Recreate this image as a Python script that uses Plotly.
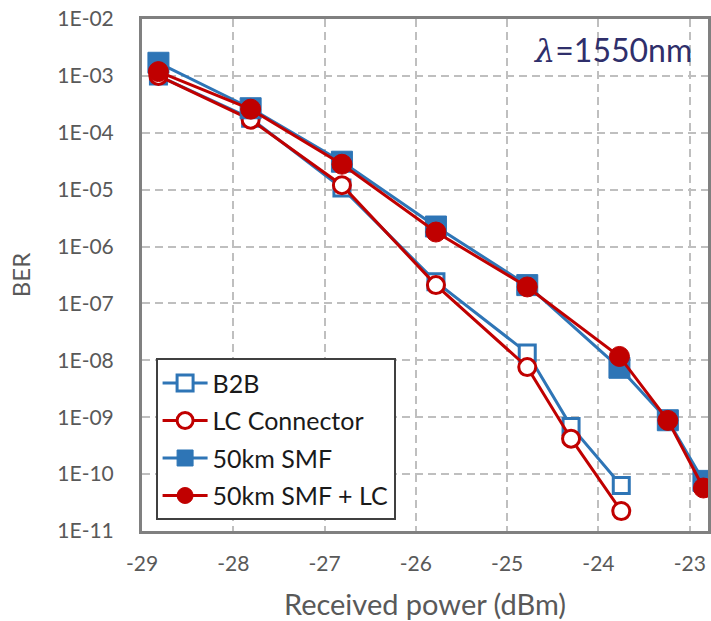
import plotly.graph_objects as go

# Received power (dBm)
b2b_x = [-28.82, -27.81, -26.81, -25.78, -24.78, -24.30, -23.75]
b2b_y = [1.0e-3, 1.8e-4, 1.07e-5, 2.4e-7, 1.35e-8, 6.9e-10, 6.3e-11]

lc_x = [-28.82, -27.81, -26.81, -25.78, -24.78, -24.30, -23.75]
lc_y = [1.0e-3, 1.7e-4, 1.2e-5, 2.1e-7, 7.6e-9, 4.2e-10, 2.24e-11]

smf_x = [-28.82, -27.81, -26.81, -25.78, -24.78, -23.77, -23.24, -22.85]
smf_y = [1.7e-3, 2.7e-4, 3.1e-5, 2.25e-6, 2.1e-7, 7.4e-9, 8.85e-10, 7.6e-11]

smflc_x = [-28.82, -27.81, -26.81, -25.78, -24.78, -23.77, -23.24, -22.85]
smflc_y = [1.19e-3, 2.6e-4, 2.8e-5, 1.8e-6, 1.95e-7, 1.17e-8, 8.8e-10, 5.7e-11]

x_ticks = [-29, -28, -27, -26, -25, -24, -23]
y_tickvals = [1e-2, 1e-3, 1e-4, 1e-5, 1e-6, 1e-7, 1e-8, 1e-9, 1e-10, 1e-11]
y_ticktext = ["1E-02", "1E-03", "1E-04", "1E-05", "1E-06", "1E-07",
              "1E-08", "1E-09", "1E-10", "1E-11"]

BLUE = "#2E75B6"
RED = "#C00000"
FONT = "Lato"

fig = go.Figure()
fig.add_trace(go.Scatter(
    x=b2b_x, y=b2b_y, name="B2B", mode="lines+markers", legendgroup="a",
    line=dict(color=BLUE, width=3),
    marker=dict(symbol="square", size=16, color="white",
                line=dict(color=BLUE, width=3))))
fig.add_trace(go.Scatter(
    x=lc_x, y=lc_y, name="LC Connector", mode="lines+markers", legendgroup="b",
    line=dict(color=RED, width=3),
    marker=dict(symbol="circle", size=17, color="white",
                line=dict(color=RED, width=3))))
fig.add_trace(go.Scatter(
    x=smf_x, y=smf_y, name="50km SMF", mode="lines+markers", legendgroup="c",
    line=dict(color=BLUE, width=3),
    marker=dict(symbol="square", size=21, color=BLUE,
                line=dict(color=BLUE, width=1))))
fig.add_trace(go.Scatter(
    x=smflc_x, y=smflc_y, name="50km SMF + LC", mode="lines+markers", legendgroup="d",
    line=dict(color=RED, width=3),
    marker=dict(symbol="circle", size=20, color=RED,
                line=dict(color=RED, width=1))))

fig.add_annotation(
    x=0.975, y=0.939, xref="paper", yref="paper", xanchor="right", yanchor="middle",
    text='<span style="font-family:DejaVu Serif"><i>λ</i></span>=1550nm',
    showarrow=False,
    font=dict(family=FONT, size=32, color="#2F2F6B"))

fig.update_layout(
    width=711, height=621,
    margin=dict(l=142, r=0, t=19, b=90),
    paper_bgcolor="white", plot_bgcolor="white",
    font=dict(family=FONT, color="#595959"),
    showlegend=True,
    legend=dict(
        x=0.024, y=0.021, xanchor="left", yanchor="bottom",
        bgcolor="white", bordercolor="#404040", borderwidth=2,
        font=dict(family=FONT, size=25, color="#1a1a1a"),
        traceorder="grouped", tracegroupgap=2, itemwidth=45),
    xaxis=dict(
        range=[-29, -22.8], tickvals=x_ticks, ticktext=[str(v) for v in x_ticks],
        showgrid=True, gridcolor="#BFBFBF", griddash="8px,5px", gridwidth=1.5,
        zeroline=False,
        showline=True, linecolor="#808080", linewidth=3, mirror=True,
        ticks="outside", ticklen=12, tickcolor="rgba(0,0,0,0)",
        tickfont=dict(family=FONT, size=21, color="#595959"),
        title=dict(text="Received power (dBm)", standoff=21,
                   font=dict(family=FONT, size=29, color="#595959"))),
    yaxis=dict(
        type="log", range=[-11, -2], tickvals=y_tickvals, ticktext=y_ticktext,
        showgrid=True, gridcolor="#BFBFBF", griddash="8px,5px", gridwidth=1.5,
        zeroline=False,
        showline=True, linecolor="#808080", linewidth=3, mirror=True,
        ticks="outside", ticklen=21, tickcolor="rgba(0,0,0,0)",
        tickfont=dict(family=FONT, size=21, color="#595959"),
        title=dict(text="BER", standoff=20,
                   font=dict(family=FONT, size=24, color="#595959"))),
)

fig.write_html("out.html", config={"displayModeBar": False},
               post_script="document.body.style.margin='0';")
